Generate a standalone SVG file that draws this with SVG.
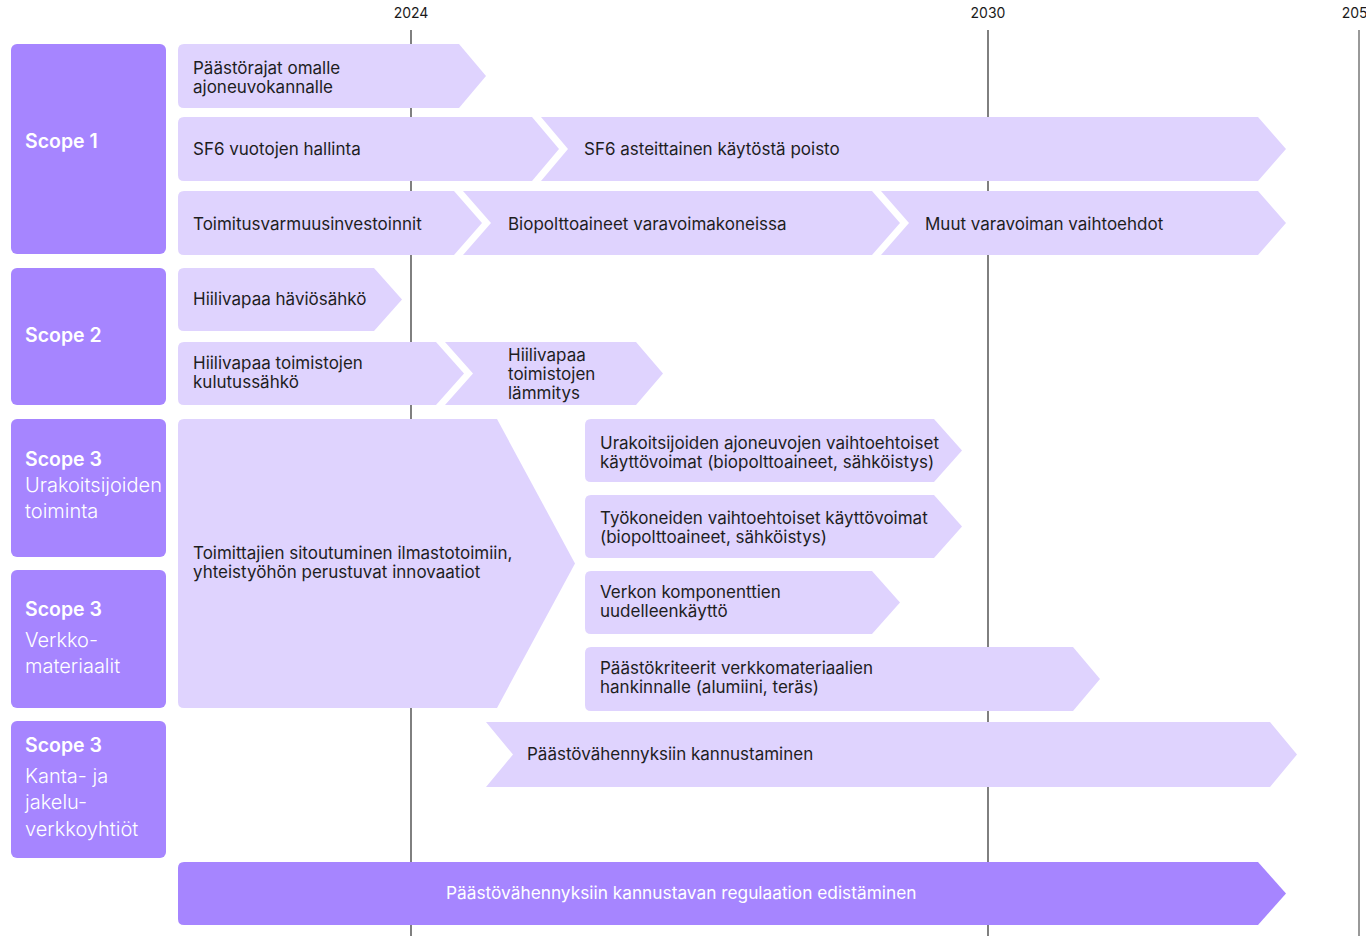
<svg xmlns="http://www.w3.org/2000/svg" width="1366" height="936" viewBox="0 0 1366 936">
<style>
.axis{stroke:#2b2b2b;stroke-width:1.2}
.yr{font-family:Inter,"Liberation Sans",sans-serif;font-size:14px;fill:#1a1a1a;text-anchor:middle}
.scope{fill:#A685FF}
.bar{fill:#DFD3FE}
.dbar{fill:#A685FF}
.t{font-family:Inter,"Liberation Sans",sans-serif;font-size:17px;fill:#1e1e1e}
.tw{font-family:Inter,"Liberation Sans",sans-serif;font-size:17.3px;fill:#ffffff}
.sh{font-family:Inter,"Liberation Sans",sans-serif;font-size:19.5px;font-weight:600;fill:#ffffff}
.sl{font-family:Inter,"Liberation Sans",sans-serif;font-size:20px;font-weight:300;fill:#ffffff}
</style>
<rect width="1366" height="936" fill="#ffffff"/>
<g id="axis">
<line class="axis" x1="411" y1="30" x2="411" y2="936"/>
<line class="axis" x1="988" y1="30" x2="988" y2="936"/>
<line class="axis" x1="1359" y1="30" x2="1359" y2="936" style="stroke:#555"/>
<text class="yr" x="411" y="18">2024</text>
<text class="yr" x="988" y="18">2030</text>
<text class="yr" x="1359" y="18">2050</text>
</g>
<g id="scope1"><rect class="scope" x="11" y="44" width="155" height="210" rx="6"/><text class="sh" x="25" y="148">Scope 1</text></g>
<g id="scope2"><rect class="scope" x="11" y="268" width="155" height="137" rx="6"/><text class="sh" x="25" y="342">Scope 2</text></g>
<g id="scope3a"><rect class="scope" x="11" y="419" width="155" height="138" rx="6"/><text class="sh" x="25" y="466">Scope 3</text><text class="sl" x="25" y="492">Urakoitsijoiden</text><text class="sl" x="25" y="518">toiminta</text></g>
<g id="scope3b"><rect class="scope" x="11" y="570" width="155" height="138" rx="6"/><text class="sh" x="25" y="616">Scope 3</text><text class="sl" x="25" y="647">Verkko-</text><text class="sl" x="25" y="673">materiaalit</text></g>
<g id="scope3c"><rect class="scope" x="11" y="721" width="155" height="137" rx="6"/><text class="sh" x="25" y="752">Scope 3</text><text class="sl" x="25" y="783">Kanta- ja</text><text class="sl" x="25" y="809">jakelu-</text><text class="sl" x="25" y="836">verkkoyhtiöt</text></g>

<g id="connectors"></g>

<g id="n1"><path class="bar" d="M184,44 H459 L486,76 L459,108 H184 Q178,108 178,102 V50 Q178,44 184,44 Z"/><text class="t" x="193" y="74">Päästörajat omalle</text><text class="t" x="193" y="93">ajoneuvokannalle</text></g>
<g id="n2"><path class="bar" d="M184,117 H532 L559,149 L532,181 H184 Q178,181 178,175 V123 Q178,117 184,117 Z"/><text class="t" x="193" y="155">SF6 vuotojen hallinta</text></g>
<g id="n3"><path class="bar" d="M541,117 H1258 L1286,149 L1258,181 H541 L568,149 Z"/><text class="t" x="584" y="155">SF6 asteittainen käytöstä poisto</text></g>
<g id="n4"><path class="bar" d="M184,191 H454 L482,223 L454,255 H184 Q178,255 178,249 V197 Q178,191 184,191 Z"/><text class="t" x="193" y="230">Toimitusvarmuusinvestoinnit</text></g>
<g id="n5"><path class="bar" d="M463,191 H872 L900,223 L872,255 H463 L491,223 Z"/><text class="t" x="508" y="230">Biopolttoaineet varavoimakoneissa</text></g>
<g id="n6"><path class="bar" d="M881,191 H1258 L1286,223 L1258,255 H881 L909,223 Z"/><text class="t" x="925" y="230">Muut varavoiman vaihtoehdot</text></g>
<g id="n7"><path class="bar" d="M184,268 H374 L402,299.5 L374,331 H184 Q178,331 178,325 V274 Q178,268 184,268 Z"/><text class="t" x="193" y="305">Hiilivapaa häviösähkö</text></g>
<g id="n8"><path class="bar" d="M184,342 H436 L464,373.5 L436,405 H184 Q178,405 178,399 V348 Q178,342 184,342 Z"/><text class="t" x="193" y="369">Hiilivapaa toimistojen</text><text class="t" x="193" y="388">kulutussähkö</text></g>
<g id="n9"><path class="bar" d="M445,342 H636 L663,373.5 L636,405 H445 L473,373.5 Z"/><text class="t" x="508" y="361">Hiilivapaa</text><text class="t" x="508" y="380">toimistojen</text><text class="t" x="508" y="399">lämmitys</text></g>
<g id="n10"><path class="bar" d="M184,419 H497 L575,563.5 L497,708 H184 Q178,708 178,702 V425 Q178,419 184,419 Z"/><text class="t" x="193" y="559">Toimittajien sitoutuminen ilmastotoimiin,</text><text class="t" x="193" y="578">yhteistyöhön perustuvat innovaatiot</text></g>
<g id="n11"><path class="bar" d="M591,419 H934 L962,450.5 L934,482 H591 Q585,482 585,476 V425 Q585,419 591,419 Z"/><text class="t" x="600" y="449">Urakoitsijoiden ajoneuvojen vaihtoehtoiset</text><text class="t" x="600" y="468">käyttövoimat (biopolttoaineet, sähköistys)</text></g>
<g id="n12"><path class="bar" d="M591,495 H934 L962,526.5 L934,558 H591 Q585,558 585,552 V501 Q585,495 591,495 Z"/><text class="t" x="600" y="524">Työkoneiden vaihtoehtoiset käyttövoimat</text><text class="t" x="600" y="543">(biopolttoaineet, sähköistys)</text></g>
<g id="n13"><path class="bar" d="M591,571 H872 L900,602.5 L872,634 H591 Q585,634 585,628 V577 Q585,571 591,571 Z"/><text class="t" x="600" y="598">Verkon komponenttien</text><text class="t" x="600" y="617">uudelleenkäyttö</text></g>
<g id="n14"><path class="bar" d="M591,647 H1073 L1100,679 L1073,711 H591 Q585,711 585,705 V653 Q585,647 591,647 Z"/><text class="t" x="600" y="674">Päästökriteerit verkkomateriaalien</text><text class="t" x="600" y="693">hankinnalle (alumiini, teräs)</text></g>
<g id="n15"><path class="bar" d="M486,722 H1270 L1297,754.5 L1270,787 H486 L513,754.5 Z"/><text class="t" x="527" y="760">Päästövähennyksiin kannustaminen</text></g>
<g id="n16"><path class="dbar" d="M184,862 H1258 L1286,893.5 L1258,925 H184 Q178,925 178,919 V868 Q178,862 184,862 Z"/><text class="tw" x="446" y="899">Päästövähennyksiin kannustavan regulaation edistäminen</text></g>
</svg>
